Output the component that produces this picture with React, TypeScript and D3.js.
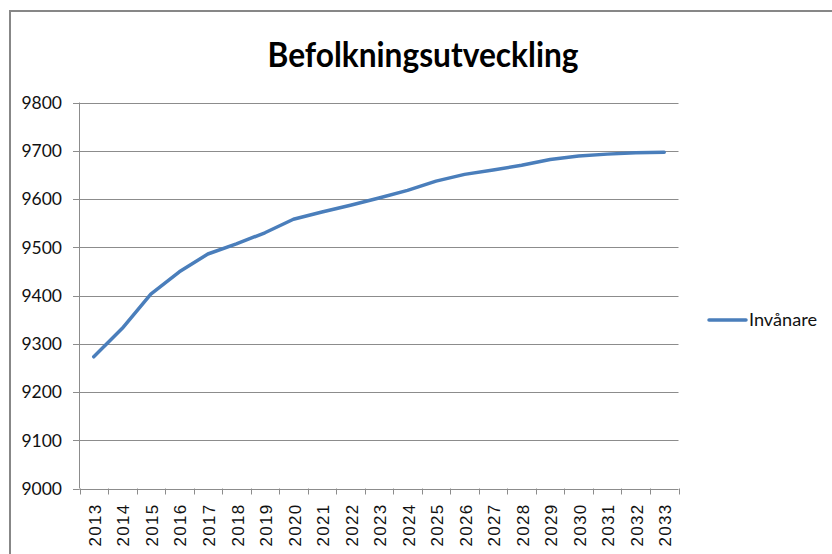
import * as d3 from "d3";

const years = [
  "2013", "2014", "2015", "2016", "2017", "2018", "2019", "2020", "2021", "2022", "2023",
  "2024", "2025", "2026", "2027", "2028", "2029", "2030", "2031", "2032", "2033",
];
const invanare = [
  9273, 9332, 9403, 9449, 9486, 9507, 9530, 9558, 9573, 9587, 9602,
  9618, 9637, 9651, 9660, 9670, 9682, 9689, 9693, 9696, 9697,
];
const yTicks = [9000, 9100, 9200, 9300, 9400, 9500, 9600, 9700, 9800];

const W = 832;
const H = 554;
const plot = { left: 79.5, right: 678.5, top: 102.5, bottom: 488.5 };
const gray = "#8c8c8c";
const blue = "#4a7ebb";

export default function App() {
  const x = d3.scaleBand().domain(years).range([plot.left, plot.right]);
  const y = d3.scaleLinear().domain([9000, 9800]).range([plot.bottom, plot.top]);
  const line = d3
    .line<number>()
    .x((_, i) => (x(years[i]) ?? 0) + x.bandwidth() / 2)
    .y((d) => y(d));

  const boundaries = years.map((yr) => x(yr) ?? 0).concat([plot.right]);

  return (
    <svg
      width={W}
      height={H}
      style={{ position: "absolute", left: 0, top: 0, background: "#fff" }}
    >
      <rect x={10} y={11} width={900} height={700} fill="#fff" stroke="#878787" strokeWidth={2} />

      <text
        x={423}
        y={67}
        textAnchor="middle"
        fontFamily="Lato, 'Open Sans', sans-serif"
        fontWeight="bold"
        fontSize={34}
        textLength={311}
        lengthAdjust="spacingAndGlyphs"
        fill="#000"
      >
        Befolkningsutveckling
      </text>

      {yTicks.map((t) => (
        <g key={t}>
          <line x1={plot.left} x2={plot.right} y1={Math.round(y(t)) + 0.5} y2={Math.round(y(t)) + 0.5} stroke={gray} strokeWidth={1} />
          <line x1={73} x2={plot.left} y1={Math.round(y(t)) + 0.5} y2={Math.round(y(t)) + 0.5} stroke={gray} strokeWidth={1} />
          <text
            x={62}
            y={y(t)}
            dy="0.36em"
            textAnchor="end"
            fontFamily="Lato, sans-serif"
            fontSize={17.5}
            fill="#111"
          >
            {t}
          </text>
        </g>
      ))}

      <line x1={plot.left} x2={plot.left} y1={plot.top} y2={plot.bottom} stroke={gray} strokeWidth={1} />
      {boundaries.map((b, i) => (
        <line key={i} x1={Math.round(b) + 0.5} x2={Math.round(b) + 0.5} y1={plot.bottom} y2={plot.bottom + 6} stroke={gray} strokeWidth={1} />
      ))}

      {years.map((yr) => {
        const cx = (x(yr) ?? 0) + x.bandwidth() / 2;
        return (
          <text
            key={yr}
            transform={`translate(${cx + 1},503.5) rotate(-90)`}
            dy="0.36em"
            textAnchor="end"
            fontFamily="'Liberation Sans', Arial, sans-serif"
            fontSize={17}
            letterSpacing={1.3}
            fill="#111"
          >
            {yr}
          </text>
        );
      })}

      <path d={line(invanare) ?? ""} fill="none" stroke={blue} strokeWidth={3.5} strokeLinejoin="round" strokeLinecap="round" />

      <line x1={709} x2={746} y1={320} y2={320} stroke={blue} strokeWidth={3.5} strokeLinecap="round" />
      <text
        x={749}
        y={320}
        dy="0.36em"
        fontFamily="Lato, sans-serif"
        fontSize={17}
        textLength={68}
        lengthAdjust="spacingAndGlyphs"
        fill="#111"
      >
        Invånare
      </text>
    </svg>
  );
}
